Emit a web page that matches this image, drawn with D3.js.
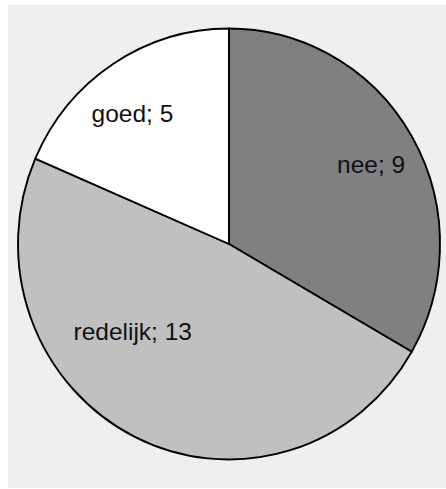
<!DOCTYPE html>
<html>
<head>
<meta charset="utf-8">
<script src="https://cdn.jsdelivr.net/npm/d3@7/dist/d3.min.js"></script>
<style>
  html, body { margin: 0; padding: 0; background: #ffffff; }
  svg { display: block; }
</style>
</head>
<body>
<script>
// Answers and counts, in clockwise order from 12 o'clock
const categories = ["nee", "redelijk", "goed"];
const counts = [9, 13, 5];
const sliceColors = ["#808080", "#c0c0c0", "#ffffff"];

// Label placement in polar terms: fraction of radius and angle (degrees, clockwise from top)
const labelRadius = [0.767, 0.61, 0.76];
const labelAngle = [61.4, 228.4, 323];

const width = 446, height = 489;
const cx = 229, cy = 244;
const rx = 211, ry = 215.5;

const svg = d3.select("body").append("svg")
  .attr("width", width)
  .attr("height", height);

// chart area panel
svg.append("rect")
  .attr("x", 8).attr("y", 5)
  .attr("width", width - 8).attr("height", height - 6)
  .attr("fill", "#efefef");

const data = categories.map((c, i) => ({ name: c, value: counts[i], color: sliceColors[i] }));

const pie = d3.pie().value(d => d.value).sort(null);
const arc = d3.arc().innerRadius(0).outerRadius(ry);

const g = svg.append("g")
  .attr("transform", `translate(${cx},${cy}) scale(${rx / ry},1)`);

g.selectAll("path")
  .data(pie(data))
  .join("path")
  .attr("d", arc)
  .attr("fill", d => d.data.color)
  .attr("stroke", "#000")
  .attr("stroke-width", 1.9)
  .attr("stroke-linejoin", "round")
  .attr("vector-effect", "non-scaling-stroke");

svg.append("g")
  .selectAll("text")
  .data(data)
  .join("text")
  .attr("x", (d, i) => cx + Math.sin(labelAngle[i] * Math.PI / 180) * labelRadius[i] * rx)
  .attr("y", (d, i) => cy - Math.cos(labelAngle[i] * Math.PI / 180) * labelRadius[i] * ry)
  .attr("dy", "0.35em")
  .attr("text-anchor", "middle")
  .attr("font-family", "'Liberation Sans', Arial, sans-serif")
  .attr("font-size", 24.5)
  .attr("fill", "#111")
  .text(d => `${d.name}; ${d.value}`);
</script>
</body>
</html>
